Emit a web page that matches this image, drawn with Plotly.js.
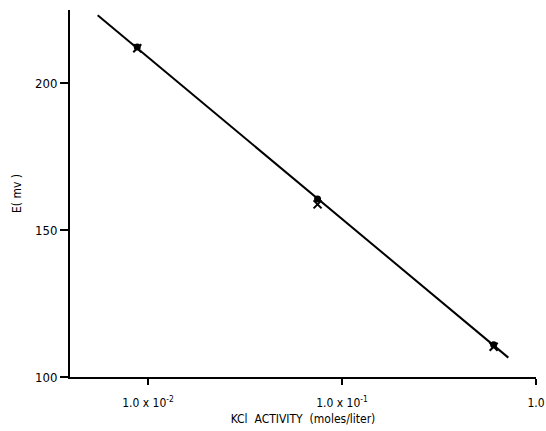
<!DOCTYPE html>
<html>
<head>
<meta charset="utf-8">
<script src="https://cdn.plot.ly/plotly-3.0.1.min.js"></script>
<style>html,body{margin:0;padding:0;background:#fff;}#chart{width:546px;height:431px;}</style>
</head>
<body>
<div id="chart"></div>
<script>
// Measured points (KCl activity, mol/L) and potentials (mV)
const activity = [0.0088, 0.0748, 0.605];
const eDot = [212.4, 160.6, 111.0];
const eCross = [212.0, 158.8, 110.3];
// Fitted line endpoints
const fitActivity = [0.0055, 0.72];
const fitE = [223.2, 106.6];
// Tick definitions
const xTickVals = [0.01, 0.1, 1.0];
const xTickText = ['1.0 x 10<sup>-2</sup>', '1.0 x 10<sup>-1</sup>', '1.0'];
const yTickVals = [100, 150, 200];

const fontFam = '"DejaVu Sans Condensed", "DejaVu Sans", sans-serif';

const traces = [
  {x: fitActivity, y: fitE, mode: 'lines', line: {color: '#000', width: 2}, hoverinfo: 'skip'},
  {x: activity, y: eDot, mode: 'markers', marker: {symbol: 'circle', size: 7, color: '#000'}},
  {x: activity, y: eCross, mode: 'markers', marker: {symbol: 'x-thin', size: 8, color: '#000', line: {color: '#000', width: 2}}}
];

const layout = {
  width: 546, height: 431,
  margin: {l: 70, r: 10, t: 10, b: 54},
  paper_bgcolor: '#fff', plot_bgcolor: '#fff',
  showlegend: false,
  font: {family: fontFam, color: '#000', size: 12},
  xaxis: {
    type: 'log',
    range: [Math.log10(0.00396), 0],
    tickvals: xTickVals, ticktext: xTickText,
    ticks: 'outside', ticklen: 6, tickwidth: 2, tickcolor: '#000',
    ticklabelstandoff: 8,
    showline: true, linecolor: '#000', linewidth: 2,
    showgrid: false, zeroline: false,
    tickfont: {size: 12, family: fontFam},
    title: {text: 'KCl  ACTIVITY  (moles/liter)', font: {size: 12, family: fontFam}, standoff: 5}
  },
  yaxis: {
    range: [100, 225],
    tickvals: yTickVals,
    ticks: 'outside', ticklen: 8, tickwidth: 2, tickcolor: '#000',
    showline: true, linecolor: '#000', linewidth: 2,
    showgrid: false, zeroline: false,
    tickfont: {size: 13, family: fontFam},
    title: {text: 'E( mv )', font: {size: 12, family: fontFam}, standoff: 11}
  }
};

Plotly.newPlot('chart', traces, layout, {displayModeBar: false, staticPlot: true});
</script>
</body>
</html>
